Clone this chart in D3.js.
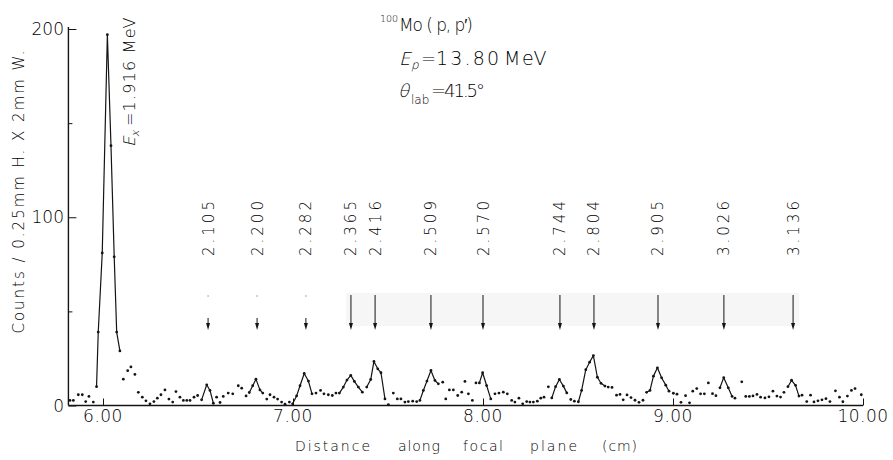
<!DOCTYPE html>
<html>
<head>
<meta charset="utf-8">
<script src="https://cdn.jsdelivr.net/npm/d3@7"></script>
<style>
  html, body { margin: 0; padding: 0; background: #fff; }
  svg { display: block; }
  text { font-family: "DejaVu Sans", "Liberation Sans", sans-serif; font-weight: 200; fill: #000; }
</style>
</head>
<body>
<svg id="chart" width="893" height="460"></svg>
<script>
// Focal-plane position (cm) of each channel and its counts
const positions = [
  5.826, 5.844, 5.870, 5.891, 5.909, 5.926, 5.949, 5.966, 5.975, 5.996,
  6.023, 6.042, 6.059, 6.072, 6.089, 6.107, 6.130, 6.147, 6.168, 6.186,
  6.207, 6.226, 6.247, 6.268, 6.286, 6.305, 6.326, 6.347, 6.367, 6.384,
  6.405, 6.423, 6.441, 6.458, 6.479, 6.498, 6.519, 6.546, 6.563, 6.581,
  6.598, 6.616, 6.633, 6.659, 6.683, 6.712, 6.730, 6.753, 6.770, 6.788,
  6.805, 6.826, 6.841, 6.862, 6.879, 6.900, 6.919, 6.940, 6.958, 6.981,
  6.998, 7.019, 7.037, 7.059, 7.081, 7.100, 7.121, 7.145, 7.163, 7.186,
  7.207, 7.226, 7.244, 7.265, 7.284, 7.304, 7.323, 7.344, 7.365, 7.388,
  7.409, 7.426, 7.446, 7.463, 7.484, 7.502, 7.528, 7.549, 7.568, 7.589,
  7.607, 7.630, 7.651, 7.668, 7.686, 7.705, 7.726, 7.747, 7.765, 7.788,
  7.804, 7.823, 7.844, 7.867, 7.888, 7.905, 7.923, 7.944, 7.963, 7.981,
  7.998, 8.019, 8.041, 8.063, 8.084, 8.107, 8.128, 8.151, 8.168, 8.189,
  8.209, 8.230, 8.247, 8.265, 8.286, 8.304, 8.321, 8.344, 8.362, 8.382,
  8.402, 8.423, 8.441, 8.462, 8.481, 8.502, 8.519, 8.541, 8.561, 8.581,
  8.602, 8.621, 8.642, 8.659, 8.679, 8.703, 8.721, 8.738, 8.758, 8.779,
  8.800, 8.821, 8.842, 8.861, 8.879, 8.897, 8.918, 8.940, 8.962, 8.979,
  9.002, 9.021, 9.042, 9.066, 9.087, 9.104, 9.125, 9.145, 9.165, 9.186,
  9.208, 9.226, 9.247, 9.267, 9.291, 9.311, 9.326, 9.362, 9.383, 9.402,
  9.421, 9.442, 9.461, 9.484, 9.505, 9.526, 9.547, 9.566, 9.584, 9.605,
  9.624, 9.645, 9.663, 9.679, 9.704, 9.724, 9.742, 9.763, 9.784, 9.805,
  9.826, 9.855, 9.876, 9.894, 9.918, 9.939, 9.958, 9.991
];
const counts = [
  2.7, 2.7, 5.7, 5.7, 2.1, 4.8, 1.8, 10, 39, 81,
  197, 138, 79, 39, 29, 14, 18.5, 20.5, 16.5, 7,
  4.4, 2.5, 0.9, 2.1, 3.9, 5.7, 8.3, 3.4, 1.8, 7.4,
  4.4, 2.7, 2.7, 2.7, 4.4, 5.3, 3, 11, 8, 1.2,
  4.4, 1.6, 4.8, 6.6, 6.2, 10.5, 9.2, 5.1, 6.9, 10.5,
  14, 8.3, 6.6, 3.4, 5.7, 4.4, 3.4, 1.8, 0.7, 1.8,
  0.9, 5.1, 10.5, 17, 13, 6.2, 6.6, 8, 6.2, 5.7,
  5.3, 6.6, 6.6, 9.8, 13.5, 16, 12.8, 9.8, 7.1, 9.8,
  13.8, 23.4, 19.5, 17.4, 3.5, 0.5, 6.6, 3.5, 3.5, 1.8,
  2.1, 2.3, 2.1, 2.7, 8, 13, 18.6, 13.3, 11.5, 12.4,
  3.5, 8.3, 8.3, 5.3, 7.1, 12.8, 6.2, 2.7, 12, 12,
  17.4, 10.6, 3.5, 6.2, 6.6, 7.1, 6.2, 2.7, 1.8, 3.9,
  0.9, 2.1, 1.8, 1.8, 2.3, 3.9, 4.4, 9.9, 4, 10,
  13.8, 10.3, 6.7, 3.2, 2.3, 2, 8, 19, 23, 26.5,
  15, 11.8, 10.3, 9.8, 9.6, 5.5, 5.9, 3, 5.6, 4.2,
  2.8, 1.7, 2.8, 7, 8, 15.6, 20, 14.7, 10.8, 7.6,
  6.5, 6, 1.7, 5.2, 1.4, 7.6, 9, 6.2, 6.2, 12,
  6.3, 5.2, 9.4, 14.8, 9.4, 4.8, 3.9, 12.6, 4.8, 4.8,
  5.1, 5.9, 4.4, 4, 4.6, 7.6, 5, 4.5, 7, 10,
  13.4, 10.7, 5, 5.5, 2.1, 5.5, 1.9, 2.5, 3, 3.6,
  2.1, 7.8, 4.4, 2, 5, 8, 9, 5.7
];

// Position ranges (cm) joined by the hand-drawn peak curves
const peakSpans = [
  [5.966, 6.089], [6.519, 6.581], [6.770, 6.841], [6.998, 7.100],
  [7.244, 7.365], [7.388, 7.484], [7.668, 7.765], [7.981, 8.041],
  [8.362, 8.441], [8.502, 8.642], [8.861, 8.979], [9.247, 9.311],
  [9.605, 9.663]
];

// Excitation energies (MeV) of the marked levels and their positions (cm)
const levelLabels = ["2.105", "2.200", "2.282", "2.365", "2.416", "2.509",
                     "2.570", "2.744", "2.804", "2.905", "3.026", "3.136"];
const levelPositions = [6.553, 6.811, 7.068, 7.305, 7.432, 7.726,
                        8.000, 8.405, 8.584, 8.921, 9.268, 9.632];
const faintLevels = ["2.105", "2.200", "2.282"];

const xTicks = [6, 7, 8, 9, 10];
const xTickLabels = ["6.00", "7.00", "8.00", "9.00", "10.00"];
const yTicks = [0, 100, 200];
const yMinorTicks = [50, 150];

const svg = d3.select("#chart");
const ink = "#141414";

const x = d3.scaleLinear().domain([6, 10]).range([103, 863]);
const y = d3.scaleLinear().domain([0, 200]).range([405.5, 29]);
const xStart = 5.818;

// faint shaded band behind the arrows
svg.append("rect")
  .attr("x", x(7.28)).attr("y", 293)
  .attr("width", x(9.665) - x(7.28)).attr("height", 33)
  .attr("fill", "#f6f6f6");

// axes
const xAxis = d3.axisBottom(x).tickValues(xTicks).tickSize(-7).tickFormat("");
const gx = svg.append("g").attr("transform", `translate(0,${y(0)})`).call(xAxis);
gx.select(".domain").remove();
gx.selectAll(".tick line").attr("stroke", ink).attr("stroke-width", 1);
svg.append("line")
  .attr("x1", x(xStart)).attr("x2", x(10))
  .attr("y1", y(0)).attr("y2", y(0))
  .attr("stroke", ink).attr("stroke-width", 1.4);

const yAxis = d3.axisLeft(y).tickValues(yTicks).tickSize(-8).tickFormat("");
const gy = svg.append("g").attr("transform", `translate(${x(xStart)},0)`).call(yAxis);
gy.select(".domain").remove();
gy.selectAll(".tick line").attr("stroke", ink).attr("stroke-width", 1);
const gyMinor = svg.append("g").attr("transform", `translate(${x(xStart)},0)`)
  .call(d3.axisLeft(y).tickValues(yMinorTicks).tickSize(-4).tickFormat(""));
gyMinor.select(".domain").remove();
gyMinor.selectAll(".tick line").attr("stroke", ink).attr("stroke-width", 1);
svg.append("line")
  .attr("x1", x(xStart)).attr("x2", x(xStart))
  .attr("y1", y(0)).attr("y2", y(200) - 2)
  .attr("stroke", ink).attr("stroke-width", 1.4);

// tick labels
svg.append("g").selectAll("text").data(xTicks).join("text")
  .attr("x", d => x(d)).attr("y", 422)
  .attr("text-anchor", "middle").attr("font-size", 17)
  .attr("letter-spacing", 0.5)
  .text((d, i) => xTickLabels[i]);
svg.append("g").selectAll("text").data(yTicks).join("text")
  .attr("x", 64).attr("y", d => y(d) + 6)
  .attr("text-anchor", "end").attr("font-size", 17)
  .text(d => d);

// axis titles
svg.append("text")
  .attr("transform", "translate(24,192) rotate(-90)")
  .attr("text-anchor", "middle").attr("font-size", 15)
  .attr("textLength", 283).attr("lengthAdjust", "spacing")
  .text("Counts / 0.25mm H. X 2mm W.");

const xTitleWords = ["Distance", "along", "focal", "plane", "(cm)"];
const xTitleStarts = [295, 398, 463, 530, 602];
const xTitleWidths = [75, 42, 40, 47, 35];
svg.append("g").selectAll("text").data(xTitleWords).join("text")
  .attr("x", (d, i) => xTitleStarts[i]).attr("y", 451)
  .attr("font-size", 14)
  .attr("textLength", (d, i) => xTitleWidths[i]).attr("lengthAdjust", "spacing")
  .text(d => d);

// hand-drawn curves through the peak channels
const line = d3.line().x(d => x(d[0])).y(d => y(d[1]));
const points = positions.map((p, i) => [p, counts[i]]);
svg.append("g").selectAll("path").data(peakSpans).join("path")
  .attr("d", s => line(points.filter(p => p[0] >= s[0] - 1e-6 && p[0] <= s[1] + 1e-6)))
  .attr("fill", "none").attr("stroke", ink).attr("stroke-width", 1.2)
  .attr("stroke-linejoin", "round");

// channel counts
svg.append("g").selectAll("circle").data(points).join("circle")
  .attr("cx", d => x(d[0])).attr("cy", d => y(d[1]))
  .attr("r", 1.4).attr("fill", ink);

// level markers
const levels = levelLabels.map((l, i) => ({ label: l, pos: levelPositions[i] }));
const gl = svg.append("g");
levels.forEach(d => {
  const cx = x(d.pos);
  const faint = faintLevels.includes(d.label);
  if (faint) {
    gl.append("circle").attr("cx", cx).attr("cy", 296).attr("r", 0.8).attr("fill", "#999");
    gl.append("line").attr("x1", cx).attr("x2", cx).attr("y1", 318).attr("y2", 325)
      .attr("stroke", ink).attr("stroke-width", 1);
  } else {
    gl.append("line").attr("x1", cx).attr("x2", cx).attr("y1", 295).attr("y2", 325)
      .attr("stroke", ink).attr("stroke-width", 1);
  }
  gl.append("path")
    .attr("d", `M${cx - 2},${323} L${cx + 2},${323} L${cx},${330} Z`)
    .attr("fill", ink);
  gl.append("text")
    .attr("transform", `translate(${cx + 5.5},256) rotate(-90)`)
    .attr("font-size", 15).attr("letter-spacing", 3)
    .text(d.label);
});

// slanted (italic-looking) symbol drawn from the light face
function slanted(parent, tx, ty, size, str) {
  return parent.append("text")
    .attr("transform", `translate(${tx},${ty}) skewX(-14)`)
    .attr("font-size", size).text(str);
}

// label on the strong low-lying peak
const exG = svg.append("g").attr("transform", "translate(135,147) rotate(-90)");
slanted(exG, 0, 0, 16, "E");
slanted(exG, 10, 4, 11, "x");
exG.append("text").attr("x", 21).attr("y", 0).attr("font-size", 16)
  .attr("letter-spacing", 1.2).text("=1.916 MeV");

// reaction and kinematics
svg.append("text").attr("x", 380).attr("y", 22).attr("font-size", 9.5).text("100");
svg.append("text").attr("x", 399).attr("y", 31).attr("font-size", 17)
  .attr("textLength", 74).attr("lengthAdjust", "spacing").text("Mo ( p, p′)");

slanted(svg, 399, 65, 18, "E");
slanted(svg, 411, 69, 12, "p");
svg.append("text").attr("x", 421).attr("y", 65).attr("font-size", 18).text("=");
svg.append("text").attr("x", 436).attr("y", 65).attr("font-size", 19)
  .attr("textLength", 63).attr("lengthAdjust", "spacing").text("13.80");
svg.append("text").attr("x", 504).attr("y", 65).attr("font-size", 19)
  .attr("letter-spacing", 1.5).text("MeV");

slanted(svg, 398, 97, 18, "θ");
svg.append("text").attr("x", 411).attr("y", 104).attr("font-size", 12).text("lab");
svg.append("text").attr("x", 431).attr("y", 97).attr("font-size", 18)
  .attr("textLength", 54).attr("lengthAdjust", "spacing").text("=41.5°");
</script>
</body>
</html>
